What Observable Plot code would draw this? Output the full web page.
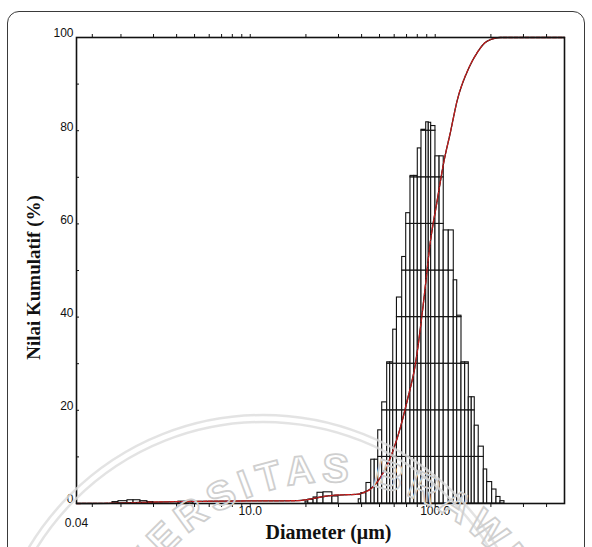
<!DOCTYPE html>
<html><head><meta charset="utf-8">
<script src="https://cdn.jsdelivr.net/npm/d3@7"></script>
<script src="https://cdn.jsdelivr.net/npm/@observablehq/plot@0.6"></script>
<style>
html,body{margin:0;padding:0;background:#fff;}
#wrap{position:relative;width:592px;height:547px;overflow:hidden;background:#fff;}
#border{position:absolute;left:7px;top:11px;width:578px;height:620px;border:1.5px solid #3a3a3a;border-radius:12px;box-sizing:border-box;}
#chart{position:absolute;left:0;top:0;}
#wm{position:absolute;left:0;top:0;pointer-events:none;}
</style></head><body>
<div id="wrap"><div id="border"></div><div id="chart"></div><svg id="wm" width="592" height="547"></svg></div>
<script>
// Histogram bars (diameter in µm, bar height on the 0-100 axis)
const barStart  = [1.80,1.94,2.17,2.34,2.55,2.78, 4.09,4.52, 19.9,20.6,22.0,23.1,24.9,27.8,
  38.6,39.8,42.5,45.1,47.1,49.2,51.7,55.0,57.1,59.3,62.1,66.3,69.7,73.5,77.0,80.5,84.3,89.4,92.3,95.1,
  100.3,105.6,111.2,118.4,126.0,131.5,138.7,145.2,151.9,157.6,163.6,171.9,183.1,191.0,203.2,214.4,225.4];
const barEnd    = [1.94,2.17,2.34,2.55,2.78,3.00, 4.52,4.93, 20.6,22.0,23.1,24.9,27.8,30.0,
  39.8,42.5,45.1,47.1,49.2,51.7,55.0,57.1,59.3,62.1,66.3,69.7,73.5,77.0,80.5,84.3,89.4,92.3,95.1,100.3,
  105.6,111.2,118.4,126.0,131.5,138.7,145.2,151.9,157.6,163.6,171.9,183.1,191.0,203.2,214.4,225.4,236.8];
const barHeight = [0.3,0.5,0.7,0.7,0.5,0.3, 0.4,0.4, 0.4,0.8,1.3,2.3,2.4,1.5,
  0.9,2.2,4.4,9.4,9.4,15.7,21.7,30.3,30.3,37.3,44.2,52.9,62.3,70.3,70.3,76.2,80.2,81.8,81.7,81.0,
  74.5,74.5,58.6,58.6,47.9,40.3,30.3,30.3,22.8,22.8,16.7,12.2,7.3,4.6,3.0,1.4,0.5];

// Cumulative curve
const cumDiameter = [1.15,2.0,3.0,5.0,10,18,20,22,25,29,34,38.5,40,45,50.6,57.3,64.9,70.5,78.2,86.7,94.3,102.5,111.2,120.9,131.5,151.3,170.3,185,200.7,225,500];
const cumPercent  = [0,0.1,0.3,0.45,0.55,0.6,0.8,1.1,1.5,1.8,1.9,2.0,2.2,3.2,5.6,9.9,16.4,22,30,43.6,56.4,65,73.2,79.7,86.5,93.3,97,98.8,99.6,100,100];

// Axes
const xDomain = [1.15, 500];
const xTickValues = [1.4,2,3,4,5,6,7,8,9,10,20,30,40,50,60,70,80,90,100,200,300,400];
const xLabelValues = [1.15, 10, 100, 500];
const xLabelTexts = ["0.04", "10.0", "100.0", "500.0"];
const yLabelValues = [0,20,40,60,80,100];
const yTickValues = [0,10,20,30,40,50,60,70,80,90,100];
const xTitle = "Diameter (\u03bcm)";
const yTitle = "Nilai Kumulatif (%)";
const watermark = "UNIVERSITAS BRAWIJAYA";

const blocks = [];
barStart.forEach((s, i) => {
  const h = barHeight[i];
  for (let b = 0; b < h; b += 10) blocks.push({x1: s, x2: barEnd[i], y1: b, y2: Math.min(b + 10, h)});
});
const cum = cumDiameter.map((d, i) => ({d, p: cumPercent[i]}));
const fmtX = d => xLabelTexts[xLabelValues.indexOf(d)];

const plot = Plot.plot({
  width: 592, height: 547,
  marginLeft: 76, marginRight: 28, marginTop: 37, marginBottom: 44,
  x: {type: "log", domain: xDomain},
  y: {domain: [0, 100]},
  style: {background: "transparent", fontFamily: "'Liberation Sans', Arial, sans-serif", fontSize: "12px", color: "#111"},
  marks: [
    Plot.rect(blocks, {x1: "x1", x2: "x2", y1: "y1", y2: "y2", fill: "white", stroke: "#111", strokeWidth: 1.1}),
    Plot.line(cum, {x: "d", y: "p", stroke: "#111", strokeWidth: 1.3, curve: "monotone-x"}),
    Plot.line(cum, {x: "d", y: "p", stroke: "#c41e1e", strokeWidth: 1.3, strokeDasharray: "4,1.5", curve: "monotone-x"}),
    Plot.frame({stroke: "#111", strokeWidth: 1.6}),
    Plot.axisY({ticks: yLabelValues, tickSize: 0, tickPadding: 3, dy: -4, label: null, fontSize: 12}),
    Plot.axisY({ticks: yTickValues, tickSize: -3, tickFormat: () => "", label: null}),
    Plot.axisX({anchor: "top", ticks: xTickValues, tickSize: 4, tickFormat: () => "", label: null}),
    Plot.axisX({anchor: "bottom", ticks: xTickValues, tickSize: 4, tickFormat: () => "", label: null}),
    Plot.axisX({anchor: "bottom", ticks: xLabelValues.slice(1, 3), tickSize: 0, tickPadding: 3, tickFormat: fmtX, label: null, fontSize: 12}),
    Plot.axisX({anchor: "bottom", ticks: [xLabelValues[0], xLabelValues[3]], tickSize: 0, tickPadding: 14.5, tickFormat: fmtX, label: null, fontSize: 12}),
    Plot.text([xTitle], {frameAnchor: "bottom", textAnchor: "middle", dx: 8, dy: 29, fontFamily: "'Liberation Serif', 'Times New Roman', serif", fontWeight: "bold", fontSize: 20, fill: "#111", lineAnchor: "middle"}),
    Plot.text([yTitle], {frameAnchor: "left", textAnchor: "middle", rotate: -90, dx: -43, dy: 7, fontFamily: "'Liberation Serif', 'Times New Roman', serif", fontWeight: "bold", fontSize: 19, fill: "#111", lineAnchor: "middle"})
  ]
});
document.getElementById("chart").appendChild(plot);

// faint watermark
const wm = d3.select("#wm");
[273, 266].forEach(r => wm.append("circle").attr("cx", 263).attr("cy", 688).attr("r", r)
  .attr("fill", "none").attr("stroke", "#dcdcdc").attr("stroke-width", 2.5).attr("opacity", 0.8));
wm.append("path").attr("id", "wmarc").attr("d", "M110,702 A220,220 0 0 1 550,702").attr("fill", "none");
wm.append("text").attr("font-family", "'Liberation Sans', Arial, sans-serif").attr("font-weight", "bold")
  .attr("font-size", 40).attr("letter-spacing", 6).attr("fill", "none").attr("stroke", "#cfcfcf").attr("stroke-width", 1.8)
  .append("textPath").attr("href", "#wmarc").attr("startOffset", "51.5%").attr("text-anchor", "middle")
  .text(watermark);
</script>
</body></html>
